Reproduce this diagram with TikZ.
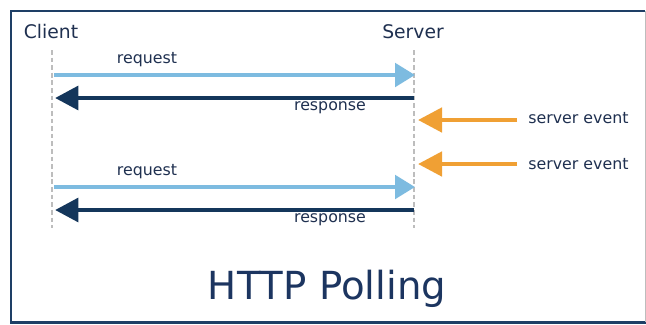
\documentclass[tikz,border=0pt]{standalone}
\usepackage{fontspec}
\setmainfont{DejaVu Sans}
\usetikzlibrary{arrows.meta}
\definecolor{pollink}{HTML}{1F3050}
\definecolor{polltitle}{HTML}{1C3560}
\definecolor{pollframe}{HTML}{1E3F66}
\definecolor{pollreq}{HTML}{7DBBE0}
\definecolor{pollresp}{HTML}{14365B}
\definecolor{pollevent}{HTML}{F0A034}
\definecolor{pollline}{HTML}{BDBDBD}

\begin{document}
\begin{tikzpicture}[x=0.03cm, y=-0.03cm,
  actor/.style={font=\fontsize{16}{18}\selectfont, color=pollink},
  msg/.style={font=\fontsize{13.5}{15}\selectfont, color=pollink, inner sep=1pt},
  lifeline/.style={pollline, line width=1.6pt, dash pattern=on 4pt off 2.5pt},
  reqarrow/.style={pollreq, line width=3.6pt, -{Triangle[length=0.6cm, width=0.7cm]}},
  resparrow/.style={pollresp, line width=4.2pt, -{Triangle[length=0.7cm, width=0.7cm]}},
  eventarrow/.style={pollevent, line width=4pt, -{Triangle[length=0.72cm, width=0.72cm]}}]
  \useasboundingbox (0,0) rectangle (646,324);
  \fill[white] (0,0) rectangle (646,324);
  \draw[pollframe, line width=1.8pt] (645,11) -- (11,11) -- (11,322.5) -- (646,322.5);
  \draw[pollline, line width=0.8pt] (645,11) -- (645,322);

  \node[actor] (client) at (51,32) {Client};
  \node[actor] (server) at (413,32) {Server};

  \coordinate (ctop) at (52,50);
  \coordinate (cbot) at (52,228);
  \coordinate (stop) at (414,50);
  \coordinate (sbot) at (414,228);
  \draw[lifeline] (ctop) -- (cbot);
  \draw[lifeline] (stop) -- (sbot);

  \coordinate (req1a) at (54,75);
  \coordinate (req1b) at (415,75);
  \coordinate (resp1a) at (414,98);
  \coordinate (resp1b) at (55,98);
  \coordinate (req2a) at (54,187);
  \coordinate (req2b) at (415,187);
  \coordinate (resp2a) at (414,210);
  \coordinate (resp2b) at (55,210);
  \coordinate (ev1tip) at (418,120);
  \coordinate (ev2tip) at (418,164);

  \draw[reqarrow] (req1a) -- (req1b);
  \draw[resparrow] (resp1a) -- (resp1b);
  \draw[reqarrow] (req2a) -- (req2b);
  \draw[resparrow] (resp2a) -- (resp2b);

  \node[msg] (req1) at (147,60) {request};
  \node[msg] (resp1) at (330,108) {response};
  \node[msg] (req2) at (147,172) {request};
  \node[msg] (resp2) at (330,220) {response};

  \node[msg, anchor=west] (ev1) at (527,118) {server event};
  \node[msg, anchor=west] (ev2) at (527,164) {server event};
  \draw[eventarrow] ([xshift=-0.3cm]ev1.west |- ev1tip) -- (ev1tip);
  \draw[eventarrow] ([xshift=-0.3cm]ev2.west |- ev2tip) -- (ev2tip);

  \node[font=\fontsize{33}{38}\selectfont, color=polltitle] (title) at (327,289) {HTTP Polling};
\end{tikzpicture}
\end{document}
